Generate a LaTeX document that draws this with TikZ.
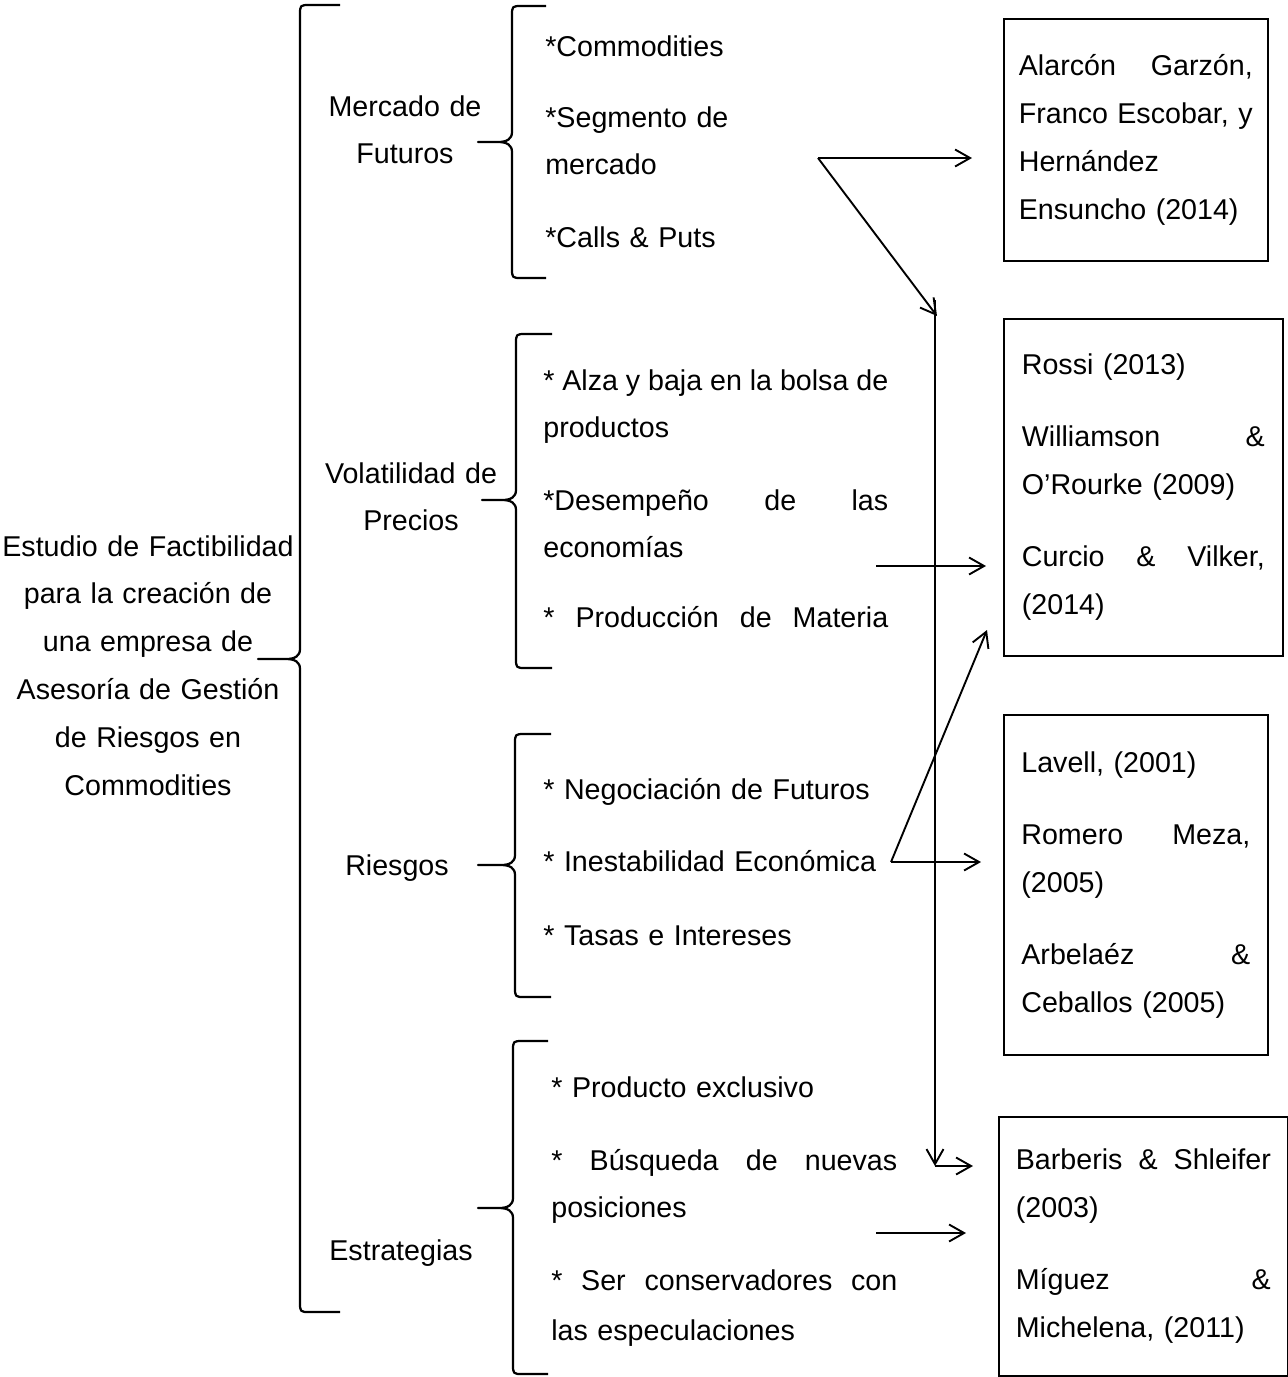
\documentclass[tikz,border=0pt]{standalone}
\usepackage{fontspec}
\setmainfont{Liberation Sans}
\usetikzlibrary{arrows.meta}
\tikzset{
  raiz/.style={inner sep=0pt, text width=6cm, align=center, anchor=base},
  rama/.style={inner sep=0pt, text width=3.8cm, align=center, anchor=base},
  item/.style={inner sep=0pt, text width=6.9cm, align=left, anchor=base west},
  fuente/.style={draw, line width=0.035cm, inner sep=0pt, anchor=north west, align=left},
  flecha/.style={line width=0.038cm, -{Straight Barb[length=0.3cm, width=0.34cm]}},
  llavest/.style={line width=0.045cm, line join=round}
}
% a justified line: spaces stretch to fill the width
\newcommand\jl[1]{{\spaceskip=0.278em plus 1fil minus 0.1em\makebox[\hsize][s]{#1}}}

\begin{document}
\begin{tikzpicture}[x=0.02cm, y=-0.02cm, font=\fontsize{16.3}{27.3}\selectfont]
  \useasboundingbox (0,0) rectangle (1288,1377);

  % Helper macro: a curly brace opening to the right
  \def\llave#1#2#3#4#5#6{%
    % #1 = x of the stem, #2 = top, #3 = y of the tip, #4 = bottom, #5 = x of the tip, #6 = x of the ends
    \draw[llavest] (#6,#2) -- ({#1+10},#2) .. controls (#1,#2) .. (#1,{#2+10})
      -- (#1,{#3-10}) .. controls (#1,{#3-3}) and ({#1-5},#3) .. ({#1-14},#3) -- (#5,#3)
      -- ({#1-14},#3) .. controls ({#1-5},#3) and (#1,{#3+3}) .. (#1,{#3+10})
      -- (#1,{#4-10}) .. controls (#1,#4) .. ({#1+10},#4) -- (#6,#4);
  }

  % Root
  \node[raiz] (estudio) at (148,556) {Estudio de Factibilidad\\ para la creación de\\ una empresa de\\ Asesoría de Gestión\\ de Riesgos en\\ Commodities};
  \llave{300}{5}{659}{1312}{258}{340}

  % Branches
  \node[rama] (mercado) at (405,116) {Mercado de\\ Futuros};
  \node[rama] (volat) at (411,483) {Volatilidad de\\ Precios};
  \node[rama] (riesgos) at (397,875) {Riesgos};
  \node[rama] (estrat) at (401,1260) {Estrategias};

  \llave{512}{6}{142}{278}{478}{546}
  \llave{516}{334}{500}{668}{482}{552}
  \llave{515}{734}{865}{997}{478}{551}
  \llave{513}{1041}{1208}{1374}{478}{548}

  % Mercado de Futuros
  \node[item] (commod) at (545,56) {*Commodities};
  \node[item] (segm) at (545,127) {*Segmento de\\ mercado};
  \node[item] (calls) at (545,247) {*Calls \& Puts};

  % Volatilidad de Precios
  \node[item] (alza) at (543,390) {\jl{* Alza y baja en la bolsa de}\\ productos};
  \node[item] (desemp) at (543,510) {\jl{*Desempeño de las}\\ economías};
  \node[item] (produc) at (543,627) {\jl{* Producción de Materia}};

  % Riesgos
  \node[item] (negoc) at (543,799) {* Negociación de Futuros};
  \node[item] (inest) at (543,871) {* Inestabilidad Económica};
  \node[item] (tasas) at (543,945) {* Tasas e Intereses};

  % Estrategias
  \node[item, text width=6.92cm] (produx) at (551,1097) {* Producto exclusivo};
  \node[item, text width=6.92cm] (busq) at (551,1170) {\jl{* Búsqueda de nuevas}\\ posiciones};
  \node[item, text width=6.92cm, font=\fontsize{16.3}{28.5}\selectfont] (conserv) at (551,1290) {\jl{* Ser conservadores con}\\ las especulaciones};

  % Sources
  \node[fuente, minimum width=5.28cm, minimum height=4.84cm, text width=4.68cm] (alarcon) at (1003,18)
    {\jl{Alarcón Garzón,}\\ \jl{Franco Escobar, y}\\ Hernández\\ Ensuncho (2014)};
  \node[fuente, minimum width=5.58cm, minimum height=6.74cm, text width=4.86cm] (rossi) at (1003,318)
    {Rossi (2013)\\[0.48cm] \jl{Williamson \&}\\ O'Rourke (2009)\\[0.48cm] \jl{Curcio \& Vilker,}\\ (2014)};
  \node[fuente, minimum width=5.28cm, minimum height=6.8cm, text width=4.58cm] (lavell) at (1003,714)
    {Lavell, (2001)\\[0.48cm] \jl{Romero Meza,}\\ (2005)\\[0.48cm] \jl{Arbelaéz \&}\\ Ceballos (2005)};
  \node[fuente, minimum width=5.78cm, minimum height=5.18cm, text width=5.1cm] (barberis) at (998,1116)
    {\jl{Barberis \& Shleifer}\\ (2003)\\[0.48cm] \jl{Míguez \&}\\ Michelena, (2011)};

  % Arrows
  \coordinate (j1) at (818,158);
  \coordinate (f1) at (972,158);
  \coordinate (v0) at (937,316);
  \coordinate (vtop) at (935,300);
  \coordinate (vbot) at (935,1166);
  \coordinate (f4a) at (973,1166);
  \coordinate (s2) at (876,566);
  \coordinate (f2) at (986,566);
  \coordinate (j3) at (891,862);
  \coordinate (f3a) at (987,630);
  \coordinate (f3b) at (981,862);
  \coordinate (s4) at (876,1233);
  \coordinate (f4b) at (966,1233);

  \draw[flecha] (j1) -- (f1);
  \draw[flecha] (j1) -- (v0);
  \draw[flecha] (vtop) -- (vbot);
  \draw[flecha] (vbot) -- (f4a);
  \draw[flecha] (s2) -- (f2);
  \draw[flecha] (j3) -- (f3a);
  \draw[flecha] (j3) -- (f3b);
  \draw[flecha] (s4) -- (f4b);

\end{tikzpicture}
\end{document}
